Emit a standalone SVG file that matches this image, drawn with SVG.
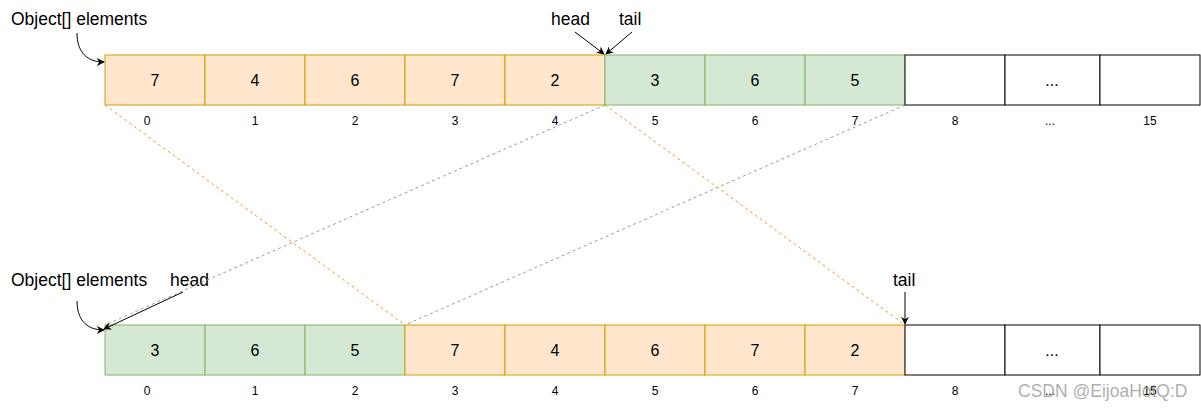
<svg xmlns="http://www.w3.org/2000/svg" width="1201" height="411" viewBox="0 0 1201 411">
<style>
text{font-family:"Liberation Sans",Arial,sans-serif;fill:#000}
.v{font-size:16px;text-anchor:middle}
.i{font-size:12px;text-anchor:middle}
.l{font-size:17.5px}
.o{fill:#ffe6cc;stroke:#d79b00;stroke-width:1}
.g{fill:#d5e8d4;stroke:#82b366;stroke-width:1}
.w{fill:#fff;stroke:#000;stroke-width:1}
.do{stroke:#e59b3c;stroke-width:1;stroke-dasharray:3 3;fill:none}
.dg{stroke:#8fa68a;stroke-width:1;stroke-dasharray:3 3;fill:none}
.a{stroke:#000;stroke-width:1;fill:none;marker-end:url(#ah)}
</style>
<defs>
<marker id="ah" viewBox="0 0 10 10" refX="9" refY="5" markerWidth="8" markerHeight="8" orient="auto" markerUnits="userSpaceOnUse">
<path d="M0,0 L10,5 L0,10 L3,5 Z" fill="#000"/>
</marker>
</defs>
<rect width="1201" height="411" fill="#fff"/>
<g id="top-array">
<rect class="o" x="105" y="55" width="100" height="50"/><text class="v" x="155" y="86">7</text>
<rect class="o" x="205" y="55" width="100" height="50"/><text class="v" x="255" y="86">4</text>
<rect class="o" x="305" y="55" width="100" height="50"/><text class="v" x="355" y="86">6</text>
<rect class="o" x="405" y="55" width="100" height="50"/><text class="v" x="455" y="86">7</text>
<rect class="o" x="505" y="55" width="100" height="50"/><text class="v" x="555" y="86">2</text>
<rect class="g" x="605" y="55" width="100" height="50"/><text class="v" x="655" y="86">3</text>
<rect class="g" x="705" y="55" width="100" height="50"/><text class="v" x="755" y="86">6</text>
<rect class="g" x="805" y="55" width="100" height="50"/><text class="v" x="855" y="86">5</text>
<rect class="w" x="905" y="55" width="100" height="50"/>
<rect class="w" x="1005" y="55" width="95" height="50"/><text class="v" x="1052" y="86">...</text>
<rect class="w" x="1100" y="55" width="100" height="50"/>
<text class="i" x="147" y="125">0</text><text class="i" x="255" y="125">1</text><text class="i" x="355" y="125">2</text><text class="i" x="455" y="125">3</text><text class="i" x="555" y="125">4</text><text class="i" x="655" y="125">5</text><text class="i" x="755" y="125">6</text><text class="i" x="855" y="125">7</text><text class="i" x="955" y="125">8</text><text class="i" x="1050" y="125">...</text><text class="i" x="1150" y="125">15</text>
</g>
<g id="bottom-array">
<rect class="g" x="105" y="325" width="100" height="50"/><text class="v" x="155" y="356">3</text>
<rect class="g" x="205" y="325" width="100" height="50"/><text class="v" x="255" y="356">6</text>
<rect class="g" x="305" y="325" width="100" height="50"/><text class="v" x="355" y="356">5</text>
<rect class="o" x="405" y="325" width="100" height="50"/><text class="v" x="455" y="356">7</text>
<rect class="o" x="505" y="325" width="100" height="50"/><text class="v" x="555" y="356">4</text>
<rect class="o" x="605" y="325" width="100" height="50"/><text class="v" x="655" y="356">6</text>
<rect class="o" x="705" y="325" width="100" height="50"/><text class="v" x="755" y="356">7</text>
<rect class="o" x="805" y="325" width="100" height="50"/><text class="v" x="855" y="356">2</text>
<rect class="w" x="905" y="325" width="100" height="50"/>
<rect class="w" x="1005" y="325" width="95" height="50"/><text class="v" x="1052" y="356">...</text>
<rect class="w" x="1100" y="325" width="100" height="50"/>
<text class="i" x="147" y="395">0</text><text class="i" x="255" y="395">1</text><text class="i" x="355" y="395">2</text><text class="i" x="455" y="395">3</text><text class="i" x="555" y="395">4</text><text class="i" x="655" y="395">5</text><text class="i" x="755" y="395">6</text><text class="i" x="855" y="395">7</text><text class="i" x="955" y="395">8</text><text class="i" x="1050" y="395">...</text><text class="i" x="1150" y="395">15</text>
</g>
<g id="labels">
<text class="l" x="11" y="25">Object[] elements</text>
<text class="l" x="551" y="25">head</text>
<text class="l" x="619" y="25">tail</text>
<text class="l" x="11" y="286">Object[] elements</text>
<text class="l" x="170" y="286">head</text>
<text class="l" x="893" y="286">tail</text>
</g>
<g id="connectors">
<path class="do" d="M105,105 L405,325"/>
<path class="do" d="M605,105 L905,325"/>
<path class="dg" d="M605,105 L105,325"/>
<path class="dg" d="M905,105 L405,325"/>
<path class="a" d="M77,33 C77,50 85,62 104,62"/>
<path class="a" d="M575,32 L604,54"/>
<path class="a" d="M632,32 L606,54"/>
<path class="a" d="M77,301 C77,318 85,330 104,330"/>
<path class="a" d="M183,292 L104,329"/>
<path class="a" d="M905,292 L905,324"/>
</g>
<text x="1018" y="397" style="font-size:17.5px;fill:#a0a0a0;fill-opacity:0.85">CSDN @EijoaHotQ:D</text>
</svg>
